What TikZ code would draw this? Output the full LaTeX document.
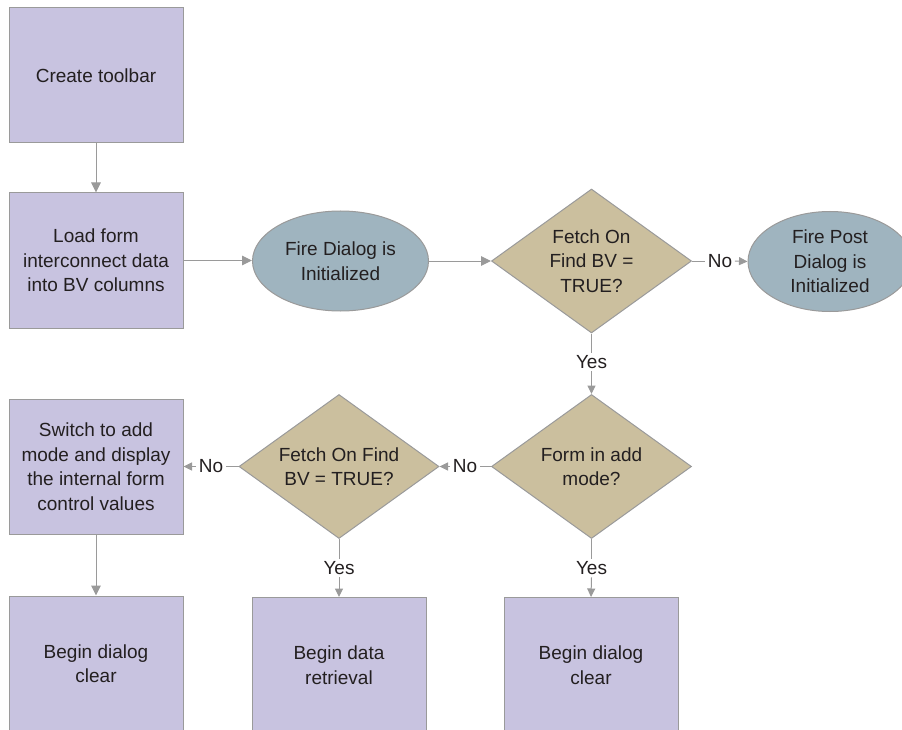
\documentclass[tikz,border=0pt]{standalone}
\usepackage{fontspec}
\setmainfont{Liberation Sans}
\usetikzlibrary{shapes.geometric,arrows.meta}
\definecolor{boxfill}{HTML}{C8C3E0}
\definecolor{ellfill}{HTML}{9FB4BF}
\definecolor{diafill}{HTML}{CBBF9E}
\definecolor{edgegray}{HTML}{9A9A9A}
\definecolor{txt}{HTML}{231F20}
\tikzset{
  every node/.style={font=\fontsize{19}{24.5}\selectfont, text=txt},
  procbox/.style={draw=edgegray, line width=1pt, fill=boxfill, minimum width=174pt, minimum height=135pt, align=center, inner sep=0pt},
  ellnode/.style={ellipse, draw=edgegray, line width=1pt, fill=ellfill, minimum width=176pt, minimum height=100pt, align=center, inner sep=0pt},
  dianode/.style={diamond, draw=edgegray, line width=1pt, fill=diafill, minimum width=200pt, minimum height=144pt, align=center, inner sep=0pt, aspect=1.39},
  lbl/.style={inner sep=2.5pt},
  conn/.style={draw=edgegray, line width=1pt},
  arr/.style={conn, -{Triangle[length=10pt,width=9.5pt]}},
  sarr/.style={conn, -{Triangle[length=8.5pt,width=8pt]}}
}
\begin{document}
\begin{tikzpicture}[x=1pt,y=-1pt]
\useasboundingbox (0,0) rectangle (902,730);
\node[procbox] (b1) at (96,75.5) {Create toolbar};
\node[procbox] (b2) at (96,260.5) {Load form\\interconnect data\\into BV columns};
\node[ellnode] (e1) at (340.5,261) {Fire Dialog is\\Initialized};
\node[dianode] (d1) at (591.5,261) {Fetch On\\Find BV =\\TRUE?};
\node[ellnode, minimum width=164pt] (e2) at (830,261.5) {Fire Post\\Dialog is\\Initialized};
\node[dianode] (d2) at (591.5,466.5) {Form in add\\mode?};
\node[dianode] (d3) at (339,466.5) {Fetch On Find\\BV = TRUE?};
\node[procbox] (b3) at (96,466.5) {Switch to add\\mode and display\\the internal form\\control values};
\node[procbox] (b4) at (96,663.5) {Begin dialog\\clear};
\node[procbox] (b5) at (339,665) {Begin data\\retrieval};
\node[procbox] (b6) at (591,665) {Begin dialog\\clear};
% labels
\node[lbl] (no1) at (720,261) {No};
\node[lbl] (yes1) at (591.5,362) {Yes};
\node[lbl] (no2) at (465,466.5) {No};
\node[lbl] (no3) at (211,466.5) {No};
\node[lbl] (yes2) at (339,568) {Yes};
\node[lbl] (yes3) at (591.5,568) {Yes};
% connectors
\draw[arr] (b1.south) -- (b2.north);
\draw[arr] (b2.east) -- (b2.east -| e1.west);
\draw[arr] (e1.east) -- (d1.west);
\draw[conn] (d1.east) -- (no1.west);
\draw[sarr] (no1.east) -- (e2.west);
\draw[conn] (d1.south) -- (yes1.north);
\draw[sarr] (yes1.south) -- (d2.north);
\draw[conn] (d2.west) -- (no2.east);
\draw[sarr] (no2.west) -- (d3.east);
\draw[conn] (d3.west) -- (no3.east);
\draw[sarr] (no3.west) -- (b3.east);
\draw[arr] (b3.south) -- (b4.north);
\draw[conn] (d3.south) -- (yes2.north);
\draw[sarr] (yes2.south) -- (b5.north);
\draw[conn] (d2.south) -- (yes3.north);
\draw[sarr] (yes3.south) -- (b6.north);
\end{tikzpicture}
\end{document}
